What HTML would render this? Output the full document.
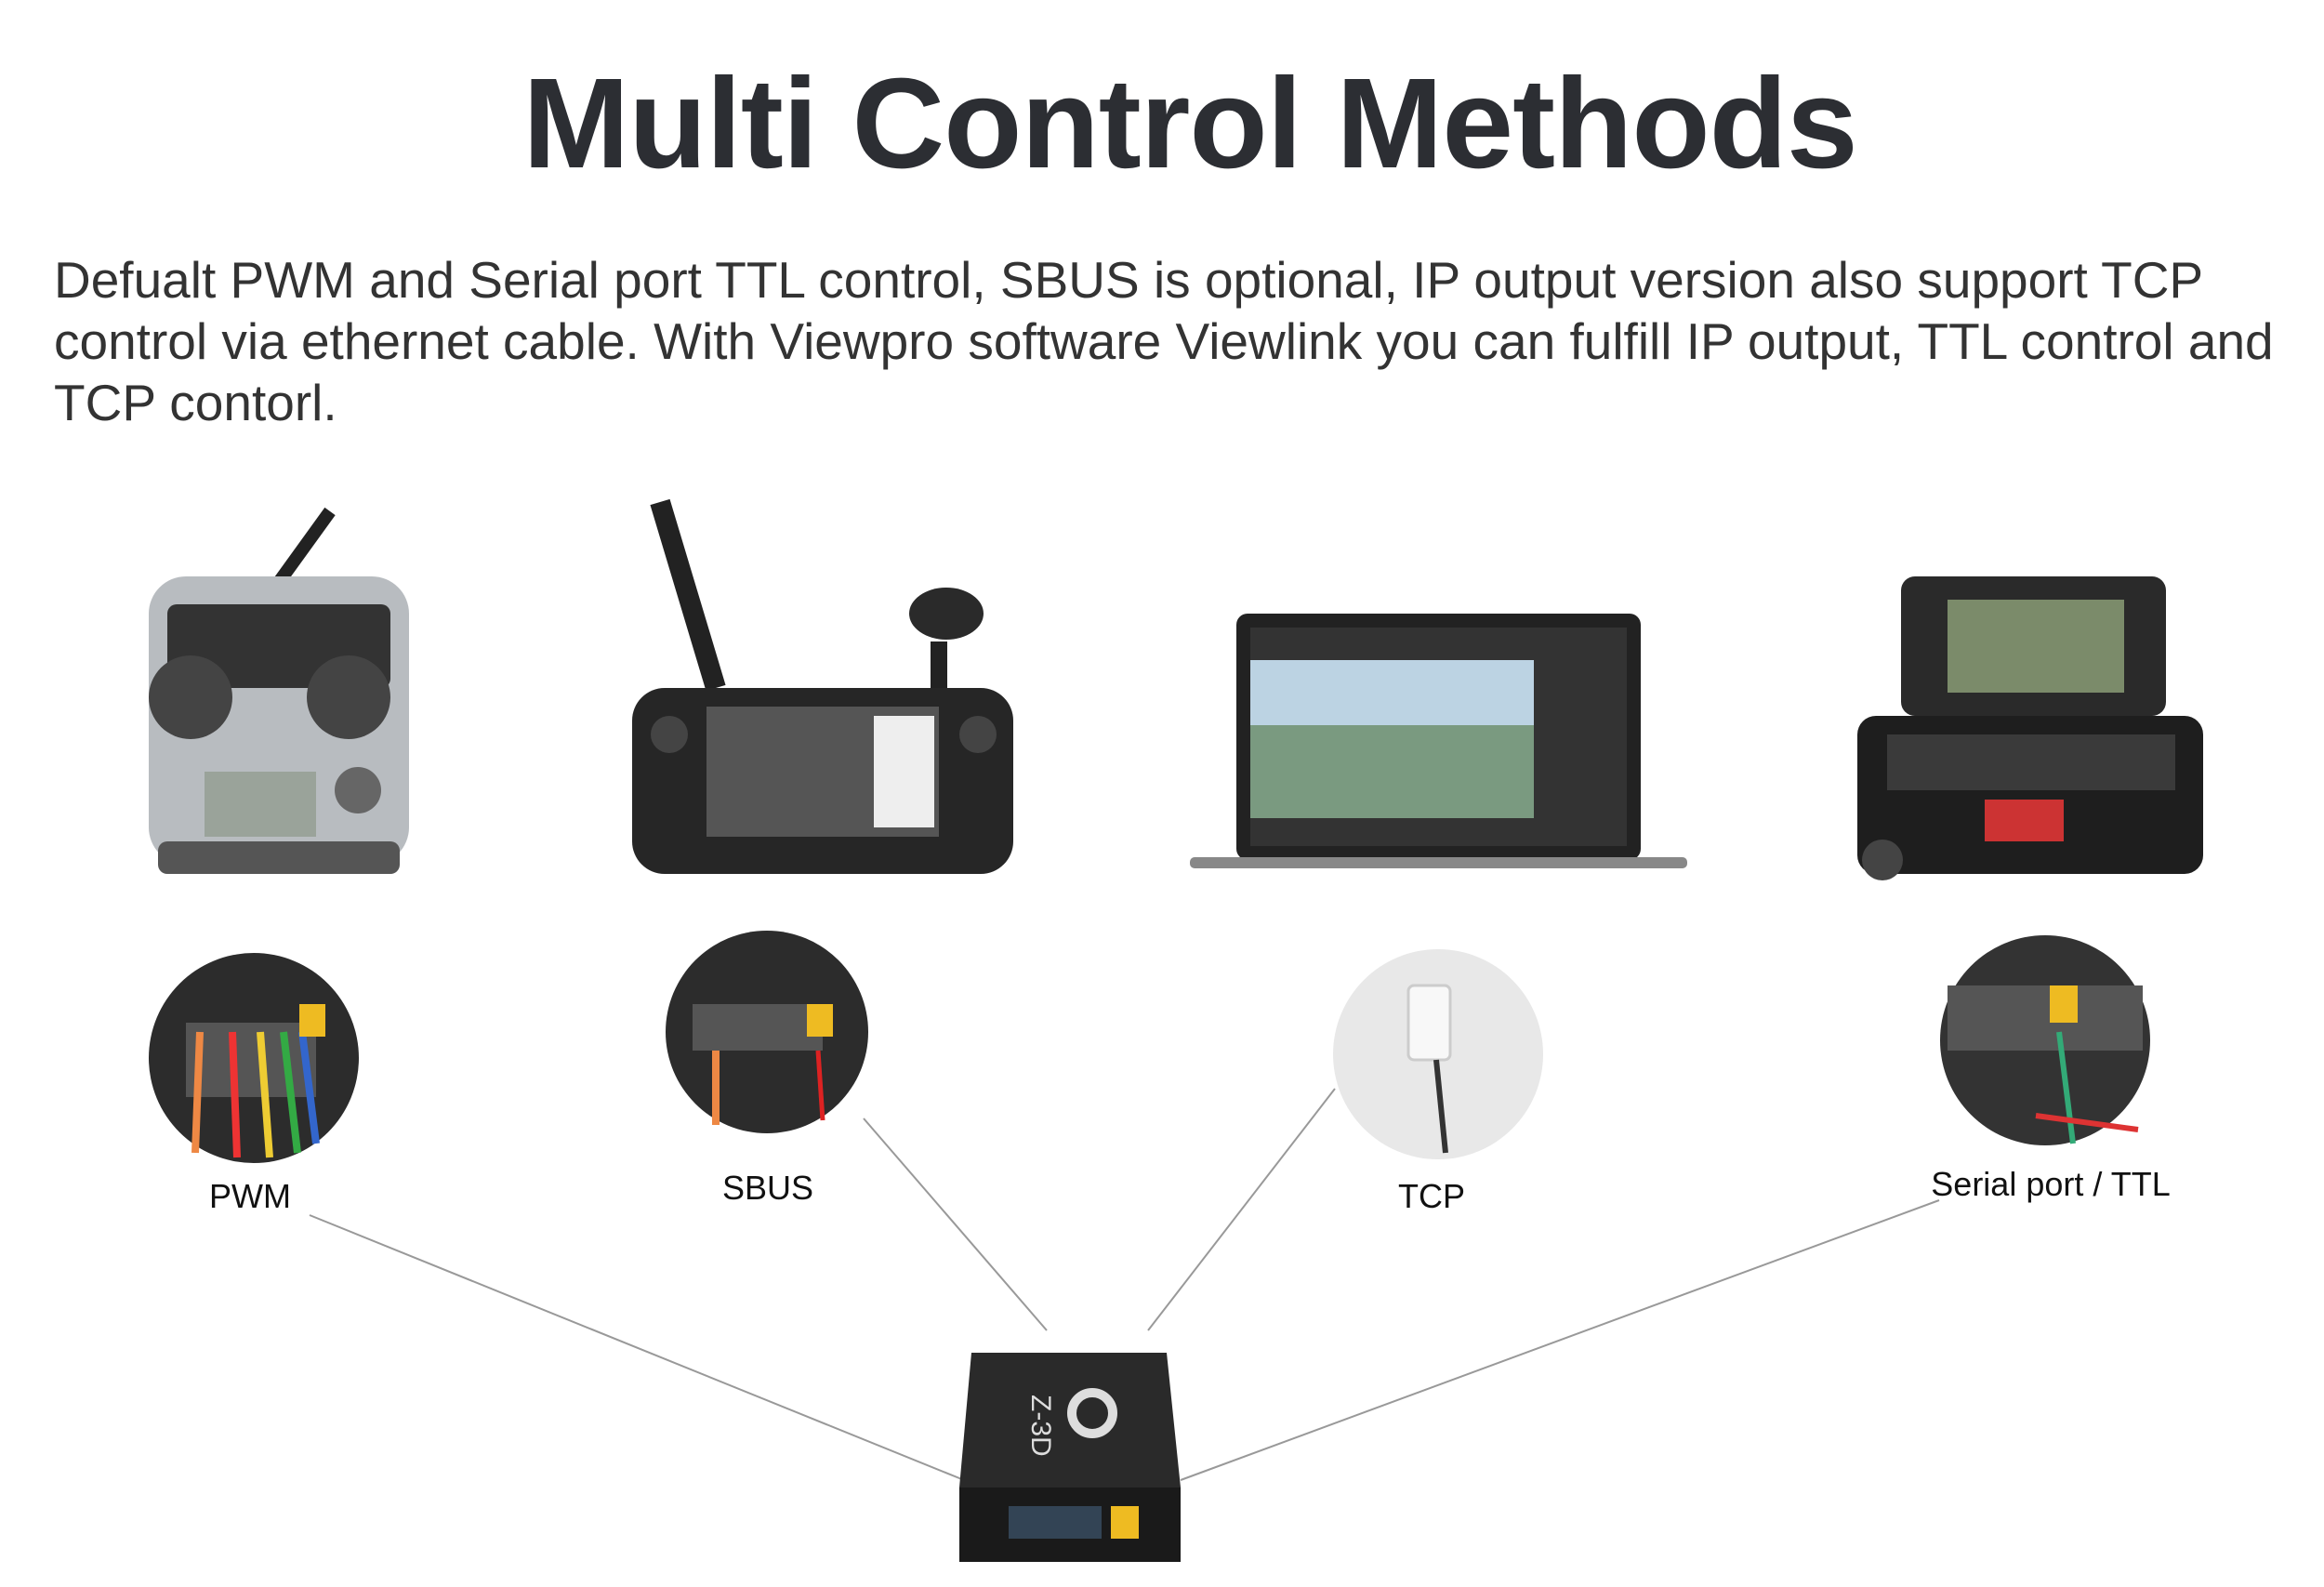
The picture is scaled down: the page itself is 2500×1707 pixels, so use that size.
<!DOCTYPE html>
<html><head><meta charset="utf-8"><style>
html,body{margin:0;padding:0;background:#fff;}
body{width:2500px;height:1707px;position:relative;overflow:hidden;font-family:"Liberation Sans",sans-serif;}
h1{position:absolute;left:0;width:2560px;top:54px;margin:0;text-align:center;font-size:138px;font-weight:bold;color:#2c2e33;letter-spacing:-1px;}
p{position:absolute;left:58px;top:268px;width:2450px;margin:0;font-size:55px;line-height:66px;color:#333;}
.lbl{position:absolute;font-size:36px;color:#111;transform:translateX(-50%);white-space:nowrap;}
svg{position:absolute;left:0;top:0;}
</style></head><body>
<h1>Multi Control Methods</h1>
<p>Defualt PWM and Serial port TTL control, SBUS is optional, IP output version also support TCP control via ethernet cable. With Viewpro software Viewlink you can fulfill IP output, TTL control and TCP contorl.</p>
<svg width="2500" height="1707">
<g stroke="#999" stroke-width="2">
<line x1="333" y1="1307" x2="1037" y2="1592"/>
<line x1="929" y1="1203" x2="1126" y2="1431"/>
<line x1="1436" y1="1171" x2="1235" y2="1431"/>
<line x1="2086" y1="1291" x2="1270" y2="1592"/>
</g>
<line x1="290" y1="640" x2="355" y2="550" stroke="#222" stroke-width="14"/>
<rect x="160" y="620" width="280" height="310" rx="40" fill="#b8bcc0"/>
<rect x="180" y="650" width="240" height="90" rx="10" fill="#333"/>
<circle cx="205" cy="750" r="45" fill="#444"/><circle cx="375" cy="750" r="45" fill="#444"/>
<rect x="220" y="830" width="120" height="70" fill="#9aa39a"/>
<circle cx="385" cy="850" r="25" fill="#666"/>
<rect x="170" y="905" width="260" height="35" rx="10" fill="#555"/>
<line x1="710" y1="540" x2="770" y2="740" stroke="#222" stroke-width="22"/>
<line x1="1010" y1="740" x2="1010" y2="690" stroke="#222" stroke-width="18"/>
<ellipse cx="1018" cy="660" rx="40" ry="28" fill="#2a2a2a"/>
<rect x="680" y="740" width="410" height="200" rx="35" fill="#262626"/>
<rect x="760" y="760" width="250" height="140" fill="#555"/>
<rect x="940" y="770" width="65" height="120" fill="#eee"/>
<circle cx="720" cy="790" r="20" fill="#444"/><circle cx="1052" cy="790" r="20" fill="#444"/>
<rect x="1330" y="660" width="435" height="265" rx="12" fill="#222"/>
<rect x="1345" y="675" width="405" height="235" fill="#333"/>
<rect x="1345" y="710" width="305" height="170" fill="#7a9a80"/>
<rect x="1345" y="710" width="305" height="70" fill="#bcd3e3"/>
<rect x="1280" y="922" width="535" height="12" rx="5" fill="#888"/>
<rect x="2045" y="620" width="285" height="150" rx="15" fill="#2a2a2a"/>
<rect x="2095" y="645" width="190" height="100" fill="#7b8b6a"/>
<rect x="1998" y="770" width="372" height="170" rx="20" fill="#1e1e1e"/>
<rect x="2030" y="790" width="310" height="60" fill="#3a3a3a"/>
<rect x="2135" y="860" width="85" height="45" fill="#c33"/>
<circle cx="2025" cy="925" r="22" fill="#444"/>
<circle cx="273" cy="1138" r="113" fill="#2c2c2c"/>
<rect x="200" y="1100" width="140" height="80" fill="#555"/>
<g stroke-width="8"><line x1="215" y1="1110" x2="210" y2="1240" stroke="#e84"/><line x1="250" y1="1110" x2="255" y2="1245" stroke="#e33"/><line x1="280" y1="1110" x2="290" y2="1245" stroke="#ec3"/><line x1="305" y1="1110" x2="320" y2="1240" stroke="#3a4"/><line x1="325" y1="1110" x2="340" y2="1230" stroke="#36c"/></g>
<rect x="322" y="1080" width="28" height="35" fill="#eb2"/>
<circle cx="825" cy="1110" r="109" fill="#2c2c2c"/>
<rect x="745" y="1080" width="140" height="50" fill="#555"/>
<line x1="770" y1="1130" x2="770" y2="1210" stroke="#e84" stroke-width="8"/>
<line x1="880" y1="1130" x2="885" y2="1205" stroke="#d22" stroke-width="5"/>
<rect x="868" y="1080" width="28" height="35" fill="#eb2"/>
<circle cx="1547" cy="1134" r="113" fill="#e8e8e8"/>
<rect x="1515" y="1060" width="45" height="80" rx="6" fill="#f8f8f8" stroke="#ccc" stroke-width="3"/>
<line x1="1545" y1="1140" x2="1555" y2="1240" stroke="#333" stroke-width="6"/>
<circle cx="2200" cy="1119" r="113" fill="#333"/>
<rect x="2095" y="1060" width="210" height="70" fill="#555"/>
<rect x="2205" y="1060" width="30" height="40" fill="#eb2"/>
<line x1="2215" y1="1110" x2="2230" y2="1230" stroke="#3a7" stroke-width="6"/>
<line x1="2190" y1="1200" x2="2300" y2="1215" stroke="#d33" stroke-width="6"/>
<path d="M1045 1455 L1255 1455 L1270 1600 L1270 1680 L1032 1680 L1032 1600 Z" fill="#2a2a2a"/>
<rect x="1032" y="1600" width="238" height="80" fill="#1a1a1a"/>
<rect x="1085" y="1620" width="100" height="35" fill="#345"/>
<rect x="1195" y="1620" width="30" height="35" fill="#eb2"/>
<circle cx="1175" cy="1520" r="22" fill="none" stroke="#ddd" stroke-width="10"/>
<text x="1110" y="1500" fill="#ddd" font-size="30" font-family="Liberation Sans" transform="rotate(90 1110 1500)">Z-3D</text>
</svg>
<div class="lbl" style="left:269px;top:1266px">PWM</div>
<div class="lbl" style="left:826px;top:1257px">SBUS</div>
<div class="lbl" style="left:1540px;top:1266px">TCP</div>
<div class="lbl" style="left:2206px;top:1253px">Serial port / TTL</div>
</body></html>
